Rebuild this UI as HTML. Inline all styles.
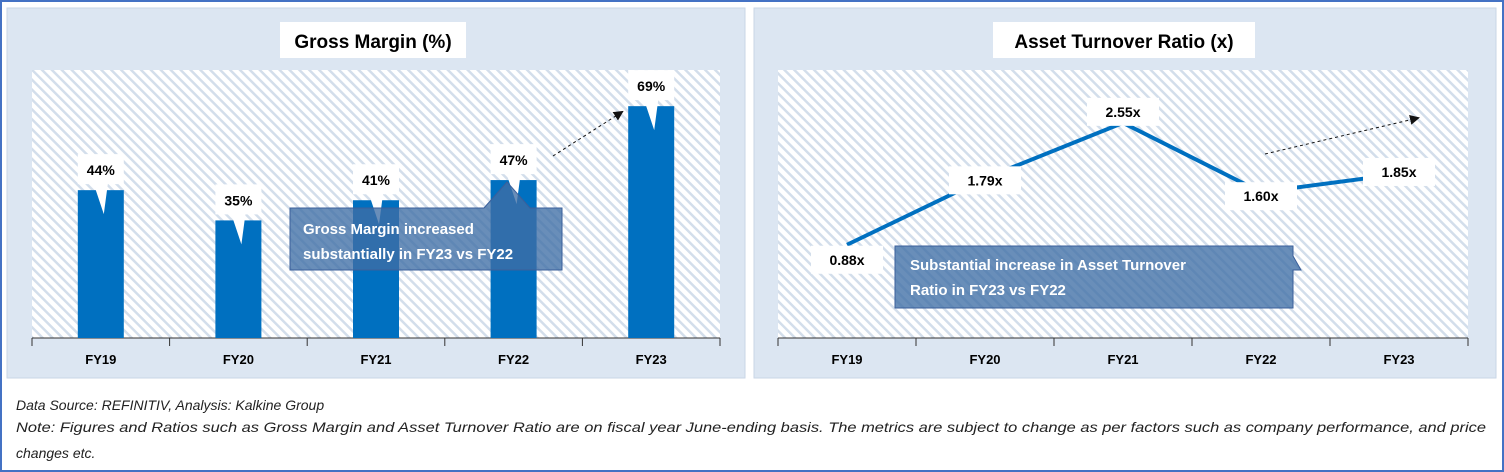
<!DOCTYPE html>
<html><head><meta charset="utf-8"><style>
body{margin:0;background:#fff}
svg{display:block;font-family:"Liberation Sans",sans-serif}
</style></head><body>
<svg id="s" width="1504" height="472" viewBox="0 0 1504 472">
<defs>
<pattern id="hatch" patternUnits="userSpaceOnUse" width="7" height="7" patternTransform="rotate(-45)">
<rect width="7" height="7" fill="#ffffff"/><rect width="2.5" height="7" fill="#d3deeb"/>
</pattern>
<marker id="arr" markerWidth="10" markerHeight="10" refX="8" refY="5" orient="auto"><path d="M0,0 L10,5 L0,10 z" fill="#111"/></marker>
</defs>
<rect x="1" y="1" width="1502" height="470" fill="#fff" stroke="#4472c4" stroke-width="2"/>
<rect x="7" y="8" width="738" height="370" fill="#dce6f2" stroke="#c9d6e6"/>
<rect x="754" y="8" width="742" height="370" fill="#dce6f2" stroke="#c9d6e6"/>
<rect x="280" y="22" width="186" height="36" fill="#fff"/>
<text x="373" y="48" font-size="19" font-weight="bold" text-anchor="middle">Gross Margin (%)</text>
<rect x="993" y="22" width="262" height="36" fill="#fff"/>
<text x="1124" y="48" font-size="19" font-weight="bold" text-anchor="middle">Asset Turnover Ratio (x)</text>
<rect x="32" y="70" width="688" height="268" fill="url(#hatch)"/>
<rect x="778" y="70" width="690" height="268" fill="url(#hatch)"/>
<g id="g1"></g><g id="g2"></g>
<text x="16" y="410" font-size="14" font-style="italic" fill="#222">Data Source: REFINITIV, Analysis: Kalkine Group</text>
<text x="16" y="432" font-size="14" font-style="italic" fill="#222" textLength="1470" lengthAdjust="spacingAndGlyphs">Note: Figures and Ratios such as Gross Margin and Asset Turnover Ratio are on fiscal year June-ending basis. The metrics are subject to change as per factors such as company performance, and price</text>
<text x="16" y="458" font-size="14" font-style="italic" fill="#222">changes etc.</text>
</svg>
<script>
const categories=["FY19","FY20","FY21","FY22","FY23"];
const grossMargin=[44,35,41,47,69];
const gmLabels=["44%","35%","41%","47%","69%"];
const assetTurnover=[0.88,1.79,2.55,1.60,1.85];
const atLabels=["0.88x","1.79x","2.55x","1.60x","1.85x"];
const NS="http://www.w3.org/2000/svg";
function mk(p,t,a){const e=document.createElementNS(NS,t);for(const k in a)e.setAttribute(k,a[k]);p.appendChild(e);return e;}
const g1=document.getElementById('g1'),g2=document.getElementById('g2');
const x1=i=>32+688/5*(i+0.5), y1=v=>338-v*3.36;
function axis(g,x0,w,xf){
 const l=mk(g,'line',{x1:x0,x2:x0+w,y1:338,y2:338,stroke:'#333','stroke-width':1});
 
 for(let i=0;i<=5;i++){const t=mk(g,'line',{x1:x0+w/5*i,x2:x0+w/5*i,y1:338,y2:346,stroke:'#333'});
  }
 categories.forEach((c,i)=>{const t=mk(g,'text',{x:xf(i),y:364,'font-size':13,'font-weight':'bold','text-anchor':'middle'});t.textContent=c;
  });
}
axis(g1,32,688,x1);
grossMargin.forEach((v,i)=>{
 const b=mk(g1,'rect',{x:x1(i)-23,y:y1(v),width:46,height:338-y1(v),fill:'#0070c0'});
 
 
 const cx=x1(i),ty=y1(v)-36;
 const bx=mk(g1,'path',{d:`M${cx-23},${ty} h46 v30 h-16 l-4,30 l-10,-30 h-16 z`,fill:'#fff'});
 
 const t=mk(g1,'text',{x:cx,y:ty+21,'font-size':14,'font-weight':'bold','text-anchor':'middle'});t.textContent=gmLabels[i];
 
});
let a=mk(g1,'line',{x1:553,y1:156,x2:622,y2:112,stroke:'#111','stroke-dasharray':'3,3','marker-end':'url(#arr)'});

let c=mk(g1,'path',{d:'M290,208 H484 L507,182 L530,208 H562 V270 H290 Z',fill:'rgba(63,110,165,0.78)',stroke:'#3a5f9a'});

let ct=mk(g1,'text',{x:303,y:234,'font-size':15,'font-weight':'bold',fill:'#fff'});ct.textContent='Gross Margin increased';

ct=mk(g1,'text',{x:303,y:259,'font-size':15,'font-weight':'bold',fill:'#fff'});ct.textContent='substantially in FY23 vs FY22';

const x2=i=>778+690/5*(i+0.5), y2=v=>309-v*73;
axis(g2,778,690,x2);
const pl=mk(g2,'polyline',{points:assetTurnover.map((v,i)=>x2(i)+','+y2(v)).join(' '),fill:'none',stroke:'#0070c0','stroke-width':4});

a=mk(g2,'line',{x1:1265,y1:154,x2:1418,y2:118,stroke:'#111','stroke-dasharray':'3,3','marker-end':'url(#arr)'});

c=mk(g2,'path',{d:'M895,246 H1293 V256 L1301,270 H1293 V308 H895 Z',fill:'rgba(63,110,165,0.78)',stroke:'#3a5f9a'});

ct=mk(g2,'text',{x:910,y:270,'font-size':15,'font-weight':'bold',fill:'#fff'});ct.textContent='Substantial increase in Asset Turnover';

ct=mk(g2,'text',{x:910,y:295,'font-size':15,'font-weight':'bold',fill:'#fff'});ct.textContent='Ratio in FY23 vs FY22';

const off=[[0,15],[0,2],[0,-11],[0,4],[0,-2]];
assetTurnover.forEach((v,i)=>{
 const cx=x2(i)+off[i][0],cy=y2(v)+off[i][1];
 const r=mk(g2,'rect',{x:cx-36,y:cy-14,width:72,height:28,fill:'#fff'});
 
 const t=mk(g2,'text',{x:cx,y:cy+5,'font-size':14,'font-weight':'bold','text-anchor':'middle'});t.textContent=atLabels[i];
 
});
</script>
</body></html>
